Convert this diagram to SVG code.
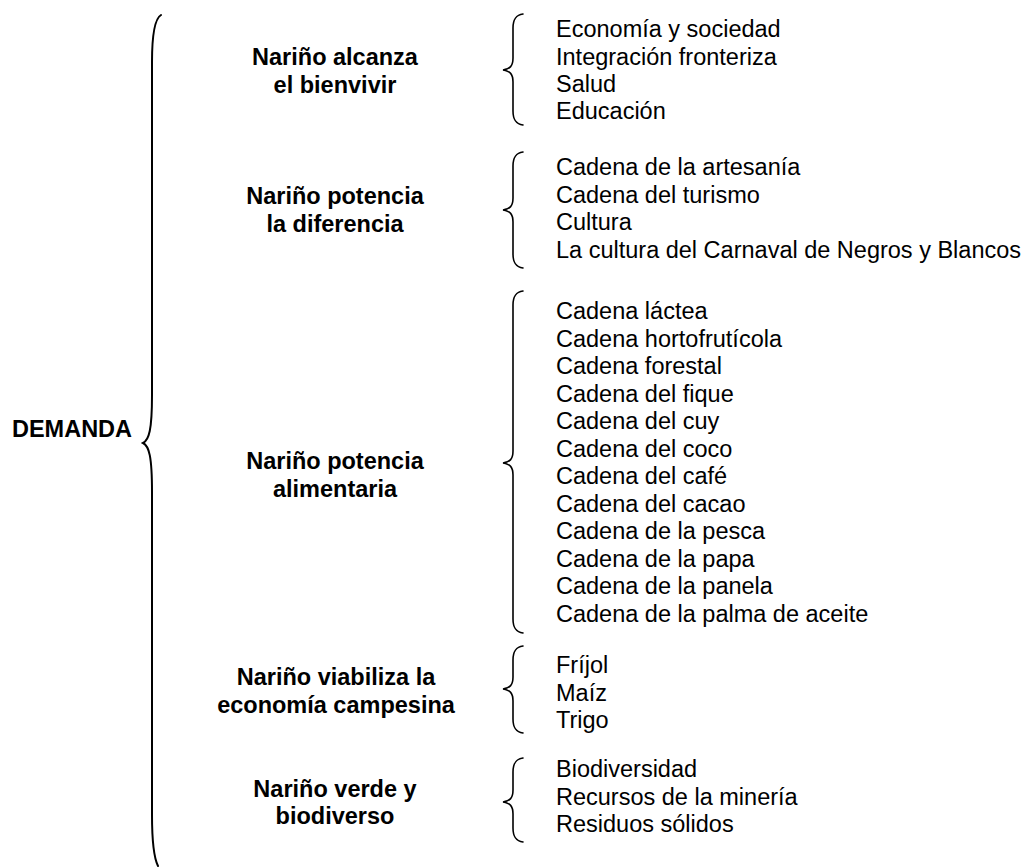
<svg xmlns="http://www.w3.org/2000/svg" width="1033" height="867" viewBox="0 0 1033 867">
<style>
text{font-family:"Liberation Sans",Arial,sans-serif;font-size:23.5px;fill:#000}
.b{font-weight:bold;text-anchor:middle}
.br{fill:none;stroke:#000;stroke-width:1.6;stroke-linecap:round}
.big{stroke-width:2}
</style>
<rect width="1033" height="867" fill="#fff"/>
<g id="connectors">
<path class="br big" d="M161,15 C156,18 152,30 152,62 L152,395 C152,430 149,440 143,443 C149,446 152,456 152,492 L152,815 C152,845 154,858 158,866"/>
<path class="br" d="M523,14 C516,15 513,19 513,28 L513,58 C513,66 510,69 503,70 C510,71 513,74 513,82 L513,111 C513,120 516,124 523,125"/>
<path class="br" d="M523,152 C516,153 513,157 513,166 L513,198 C513,206 510,209 503,210 C510,211 513,214 513,222 L513,254 C513,263 516,267 523,268"/>
<path class="br" d="M523,291 C516,292 513,296 513,305 L513,451 C513,459 510,462 503,463 C510,464 513,467 513,475 L513,619 C513,628 516,632 523,633"/>
<path class="br" d="M523,646 C516,647 513,651 513,660 L513,677 C513,685 510,688 503,689 C510,690 513,693 513,701 L513,719 C513,728 516,732 523,733"/>
<path class="br" d="M523,758 C516,759 513,763 513,772 L513,790 C513,798 510,801 503,802 C510,803 513,806 513,814 L513,828 C513,837 516,841 523,842"/>
</g>
<g id="demanda"><text class="b" x="72" y="437">DEMANDA</text></g>
<g id="bienvivir"><text class="b" x="335" y="65">Nariño alcanza</text><text class="b" x="335" y="93">el bienvivir</text></g>
<g id="diferencia"><text class="b" x="335" y="204">Nariño potencia</text><text class="b" x="335" y="232">la diferencia</text></g>
<g id="alimentaria"><text class="b" x="335" y="469">Nariño potencia</text><text class="b" x="335" y="497">alimentaria</text></g>
<g id="campesina"><text class="b" x="336" y="685">Nariño viabiliza la</text><text class="b" x="336" y="713">economía campesina</text></g>
<g id="verde"><text class="b" x="335" y="797">Nariño verde y</text><text class="b" x="335" y="824">biodiverso</text></g>
<g id="items-bienvivir">
<text x="556" y="37">Economía y sociedad</text>
<text x="556" y="64.5">Integración fronteriza</text>
<text x="556" y="92">Salud</text>
<text x="556" y="119">Educación</text>
</g>
<g id="items-diferencia">
<text x="556" y="175">Cadena de la artesanía</text>
<text x="556" y="202.5">Cadena del turismo</text>
<text x="556" y="230">Cultura</text>
<text x="556" y="257.5">La cultura del Carnaval de Negros y Blancos</text>
</g>
<g id="items-alimentaria">
<text x="556" y="319">Cadena láctea</text>
<text x="556" y="346.5">Cadena hortofrutícola</text>
<text x="556" y="374">Cadena forestal</text>
<text x="556" y="401.5">Cadena del fique</text>
<text x="556" y="429">Cadena del cuy</text>
<text x="556" y="456.5">Cadena del coco</text>
<text x="556" y="484">Cadena del café</text>
<text x="556" y="511.5">Cadena del cacao</text>
<text x="556" y="539">Cadena de la pesca</text>
<text x="556" y="566.5">Cadena de la papa</text>
<text x="556" y="594">Cadena de la panela</text>
<text x="556" y="621.5">Cadena de la palma de aceite</text>
</g>
<g id="items-campesina">
<text x="556" y="673">Fríjol</text>
<text x="556" y="700.5">Maíz</text>
<text x="556" y="728">Trigo</text>
</g>
<g id="items-verde">
<text x="556" y="777">Biodiversidad</text>
<text x="556" y="804.5">Recursos de la minería</text>
<text x="556" y="832">Residuos sólidos</text>
</g>
</svg>
